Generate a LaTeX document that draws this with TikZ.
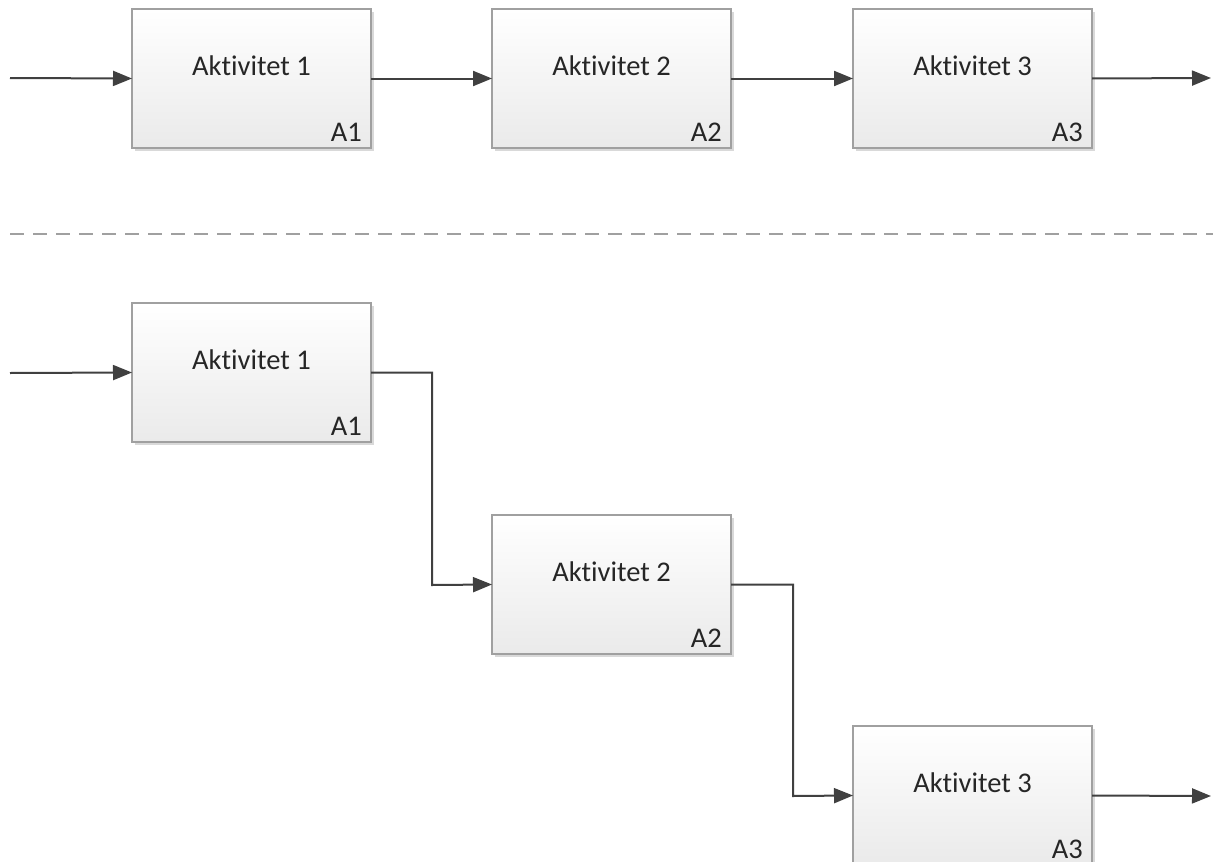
\documentclass[tikz,border=0pt]{standalone}
\usepackage{fontspec}
\setmainfont{Carlito}[Ligatures=NoCommon]
\usetikzlibrary{arrows.meta,shadows}
\definecolor{linegray}{HTML}{404040}
\definecolor{boxedge}{HTML}{A0A0A0}
\definecolor{boxbot}{HTML}{EAEAEA}
\definecolor{txt}{HTML}{262626}
\tikzset{
  actbox/.style={draw=boxedge, line width=1.2pt, top color=white, bottom color=boxbot,
    minimum width=239pt, minimum height=139pt, inner sep=0pt, outer sep=0pt,
    drop shadow={shadow xshift=2.5pt, shadow yshift=-2.5pt, opacity=0.15, fill=black}},
  acttitle/.style={font=\fontsize{28.5}{31}\selectfont, text=txt, inner sep=0pt},
  actid/.style={font=\fontsize{28.5}{31}\selectfont, text=txt, inner sep=0pt, anchor=south east},
  flow/.style={draw=linegray, line width=2pt, -{Triangle[length=19pt,width=15pt]}},
  sep/.style={draw=boxedge, line width=1.5pt, dash pattern=on 14pt off 9pt}
}
\begin{document}
\begin{tikzpicture}[x=1pt,y=-1pt]
  \useasboundingbox (0,0) rectangle (1213,862);
  \clip (0,0) rectangle (1213,862);
  % upper row: three activities in a straight line
  \foreach \n/\x in {1/132,2/492,3/853} {
    \node[actbox, anchor=north west] (u\n) at (\x,9) {};
    \node[acttitle] (ut\n) at ([yshift=13pt]u\n.center) {Aktivitet \n};
    \node[actid] (ui\n) at ([xshift=-9pt,yshift=6pt]u\n.south east) {A\n};
  }
  \coordinate (uin) at (10,78);
  \coordinate (uout) at (1211,78);
  \draw[flow] (uin) -- (u1.west);
  \draw[flow] (u1.east) -- (u2.west);
  \draw[flow] (u2.east) -- (u3.west);
  \draw[flow] (u3.east) -- (uout);

  % separator
  \coordinate (sa) at (10,234);
  \coordinate (sb) at (1213,234);
  \draw[sep] (sa) -- (sb);

  % lower row: activities in a staircase
  \node[actbox, anchor=north west] (l1) at (132,303) {};
  \node[actbox, anchor=north west] (l2) at (492,515) {};
  \node[actbox, anchor=north west] (l3) at (853,726) {};
  \foreach \n in {1,2,3} {
    \node[acttitle] (lt\n) at ([yshift=13pt]l\n.center) {Aktivitet \n};
    \node[actid] (li\n) at ([xshift=-9pt,yshift=6pt]l\n.south east) {A\n};
  }
  \coordinate (lin) at (10,373);
  \coordinate (lout) at (1211,796);
  \draw[flow] (lin) -- (l1.west);
  \draw[flow] (l1.east) -| (432,585) -- (l2.west);
  \draw[flow] (l2.east) -| (793,796) -- (l3.west);
  \draw[flow] (l3.east) -- (lout);
\end{tikzpicture}
\end{document}
